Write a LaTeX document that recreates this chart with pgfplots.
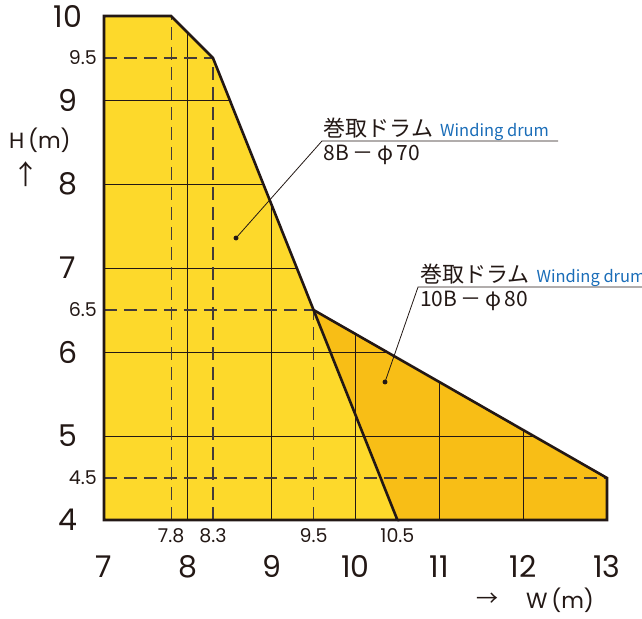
\documentclass[border=0pt]{standalone}
\usepackage{pgfplots}
\pgfplotsset{compat=1.18}
\usepackage{fontspec}
\setmainfont{Noto Sans CJK JP}
\newfontfamily\pop{Poppins}
\definecolor{yel}{HTML}{FDD92B}
\definecolor{org}{HTML}{F8BE16}
\definecolor{ink}{HTML}{231815}
\definecolor{wblue}{HTML}{1A6DB8}
\begin{document}
\begin{tikzpicture}
\useasboundingbox (-104pt,-98pt) rectangle (538pt,520pt);
\begin{axis}[
  at={(0,0)}, anchor=south west, scale only axis,
  width=503pt, height=504pt,
  xmin=7, xmax=13, ymin=4, ymax=10,
  clip=false,
  axis line style={draw=none}, tick style={draw=none}, major tick length=0pt,
  /pgf/number format/assume math mode=true,
  xtick={7,8,9,10,11,12,13}, ytick={4,5,6,7,8,9,10},
  xticklabel style={font=\pop\fontsize{30}{30}\selectfont, text=ink, anchor=base, inner sep=0pt, yshift=-57pt},
  yticklabel style={font=\pop\fontsize{30}{30}\selectfont, text=ink, anchor=center, inner sep=0pt, xshift=-36pt},
  extra x ticks={7.8,8.3,9.5,10.5},
  extra x tick labels={7.8,8.3,9.5,10.5},
  extra x tick style={xticklabel style={font=\pop\fontsize{19}{19}\selectfont, yshift=35pt}},
  extra y ticks={9.5,6.5,4.5},
  extra y tick labels={9.5,6.5,4.5},
  extra y tick style={yticklabel style={font=\pop\fontsize{19}{19}\selectfont, anchor=east, xshift=29pt}},
]
% fills
\addplot[draw=none, fill=org] coordinates {(9.5,6.5) (13,4.5) (13,4) (10.5,4) (9.5,6.5)};
\addplot[draw=none, fill=yel] coordinates {(7,4) (7,10) (7.8,10) (8.3,9.5) (10.5,4) (7,4)};
% solid grid lines (clipped to the regions)
\addplot[ink, line width=0.9pt] coordinates {(8,4) (8,9.8)};
\addplot[ink, line width=0.9pt] coordinates {(9,4) (9,7.75)};
\addplot[ink, line width=0.9pt] coordinates {(10,4) (10,6.214)};
\addplot[ink, line width=0.9pt] coordinates {(11,4) (11,5.643)};
\addplot[ink, line width=0.9pt] coordinates {(12,4) (12,5.071)};
\addplot[ink, line width=0.9pt] coordinates {(7,9) (8.5,9)};
\addplot[ink, line width=0.9pt] coordinates {(7,8) (8.9,8)};
\addplot[ink, line width=0.9pt] coordinates {(7,7) (9.3,7)};
\addplot[ink, line width=0.9pt] coordinates {(7,6) (10.375,6)};
\addplot[ink, line width=0.9pt] coordinates {(7,5) (12.125,5)};
% dashed lines
\addplot[ink!85, line width=1.1pt, dash pattern=on 13pt off 7pt] coordinates {(7,9.5) (8.3,9.5)};
\addplot[ink!85, line width=1.1pt, dash pattern=on 13pt off 7pt] coordinates {(7,6.5) (9.5,6.5)};
\addplot[ink!85, line width=1.1pt, dash pattern=on 13pt off 7pt] coordinates {(7,4.5) (13,4.5)};
\addplot[ink!85, line width=1.1pt, dash pattern=on 13pt off 7pt] coordinates {(7.8,4) (7.8,10)};
\addplot[ink!85, line width=1.1pt, dash pattern=on 13pt off 7pt] coordinates {(8.3,4) (8.3,9.5)};
\addplot[ink!85, line width=1.1pt, dash pattern=on 13pt off 7pt] coordinates {(9.5,4) (9.5,6.5)};
% outlines
\addplot[ink, line width=2.6pt, line join=miter] coordinates {(9.5,6.5) (13,4.5) (13,4) (10.5,4)};
\addplot[ink, line width=2.6pt, line join=miter] coordinates {(10.5,4) (7,4) (7,10) (7.8,10) (8.3,9.5) (10.5,4) (7,4)};
% annotation 1
\addplot[ink, line width=0.8pt] coordinates {(8.575,7.357) (9.6,8.512) (12.416,8.512)};
\addplot[ink, only marks, mark=*, mark size=2.2pt] coordinates {(8.575,7.357)};
\node[anchor=base west, inner sep=0pt, text=ink, yshift=4pt] at (axis cs:9.62,8.512)
  {{\fontsize{22}{22}\selectfont 巻取ドラム}\hspace{7pt}{\color{wblue}\fontsize{16.5}{16.5}\selectfont Winding drum}};
\node[anchor=north west, inner sep=0pt, text=ink, yshift=-4pt] at (axis cs:9.62,8.512)
  {\fontsize{21}{21}\selectfont 8B\,－\,φ\,70};
% annotation 2
\addplot[ink, line width=0.8pt] coordinates {(10.352,5.643) (10.746,6.774) (13.5,6.774)};
\addplot[ink, only marks, mark=*, mark size=2.2pt] coordinates {(10.352,5.643)};
\node[anchor=base west, inner sep=0pt, text=ink, yshift=4pt] at (axis cs:10.77,6.774)
  {{\fontsize{22}{22}\selectfont 巻取ドラム}\hspace{7pt}{\color{wblue}\fontsize{16.5}{16.5}\selectfont Winding drum}};
\node[anchor=north west, inner sep=0pt, text=ink, yshift=-4pt] at (axis cs:10.77,6.774)
  {\fontsize{21}{21}\selectfont 10B\,－\,φ\,80};
% axis labels
\node[text=ink, inner sep=0pt] at (axis cs:6.236,8.524) {\pop\fontsize{22}{22}\selectfont H\,(m)};
\node[text=ink, inner sep=0pt] at (axis cs:6.07,8.12) {\fontsize{27}{27}\selectfont ↑};
\node[text=ink, inner sep=0pt] at (axis cs:11.569,3.048) {\fontsize{22}{22}\selectfont →};
\node[text=ink, inner sep=0pt] at (axis cs:12.44,3.048) {\pop\fontsize{22}{22}\selectfont W\,(m)};
\end{axis}
\end{tikzpicture}
\end{document}
